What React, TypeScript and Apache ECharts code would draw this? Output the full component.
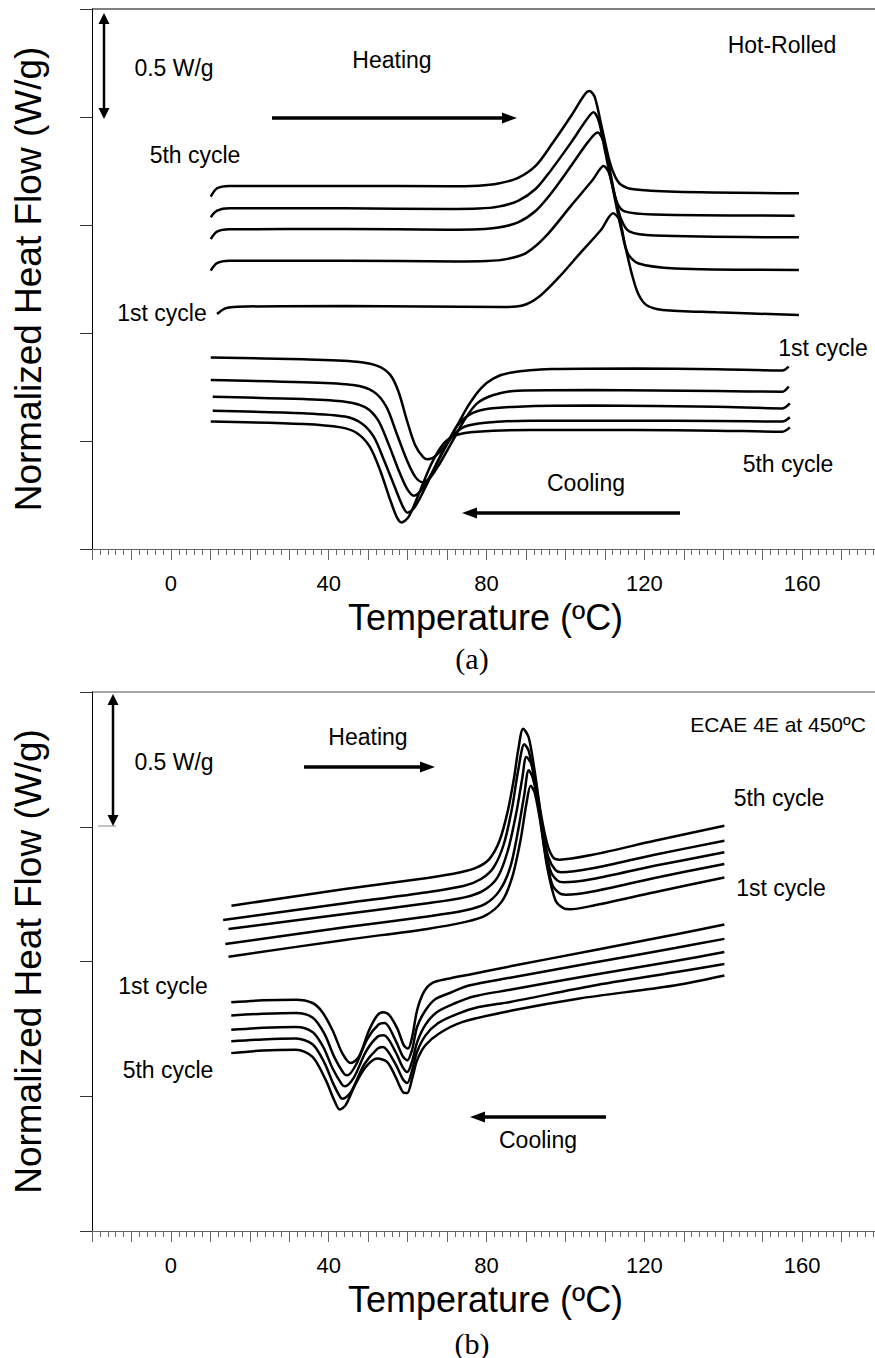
import React, { useEffect, useRef } from "react";
import * as echarts from "echarts";

// ---------- axis texts ----------
const xLabelValues = [0, 40, 80, 120, 160];
const xTitle = "Temperature (ºC)";
const yTitle = "Normalized Heat Flow (W/g)";

// ---------- Panel (a) Hot-Rolled : heating curves (T ºC, W/g offset) ----------
const heatA5 = [[10.1,1.631],[11.7,1.670],[14.8,1.681],[44.1,1.681],[70.0,1.679],[78.0,1.682],[83.0,1.692],[88.0,1.718],[92.5,1.775],[96.4,1.870],[101.6,2.009],[104.8,2.102],[106.1,2.120],[107.4,2.094],[109.0,1.971],[111.1,1.801],[112.6,1.724],[114.2,1.685],[117.3,1.665],[127.8,1.654],[159.2,1.647]];
const heatA4 = [[10.1,1.536],[11.7,1.566],[14.8,1.577],[44.1,1.577],[70.0,1.574],[78.0,1.576],[83.0,1.585],[88.0,1.612],[92.5,1.668],[96.4,1.755],[101.6,1.886],[105.3,1.986],[107.1,2.022],[108.5,1.979],[110.0,1.847],[111.6,1.708],[113.2,1.600],[115.2,1.562],[122.6,1.549],[158.1,1.543]];
const heatA3 = [[10.1,1.435],[11.7,1.469],[14.8,1.480],[44.1,1.482],[70.0,1.478],[78.0,1.480],[83.0,1.488],[88.0,1.512],[92.5,1.566],[96.4,1.647],[101.6,1.778],[105.8,1.886],[108.2,1.928],[109.5,1.894],[111.1,1.770],[112.6,1.631],[114.2,1.523],[116.3,1.469],[122.6,1.451],[159.2,1.443]];
const heatA2 = [[10.1,1.289],[11.7,1.323],[14.8,1.334],[44.1,1.335],[72.0,1.331],[80.0,1.333],[85.0,1.342],[90.0,1.370],[95.0,1.447],[101.6,1.593],[106.9,1.708],[109.7,1.773],[111.1,1.739],[112.6,1.616],[114.2,1.477],[115.8,1.369],[118.4,1.323],[127.8,1.299],[159.2,1.292]];
const heatA1 = [[11.7,1.088],[13.8,1.114],[16.9,1.122],[44.1,1.125],[84.0,1.120],[89.1,1.127],[93.3,1.168],[98.5,1.261],[103.7,1.369],[109.0,1.477],[112.1,1.554],[113.7,1.523],[115.2,1.400],[116.8,1.276],[118.4,1.184],[120.5,1.130],[124.7,1.107],[138.3,1.096],[159.2,1.083]];

// ---------- Panel (a) Hot-Rolled : cooling curves ----------
const coolA1 = [[10.1,0.886],[33.6,0.878],[47.2,0.867],[52.5,0.847],[55.6,0.806],[57.7,0.728],[59.8,0.597],[61.9,0.482],[64.0,0.424],[65.2,0.415],[67.1,0.431],[69.7,0.482],[72.4,0.566],[75.5,0.667],[78.6,0.744],[81.8,0.790],[86.0,0.816],[96.4,0.833],[117.3,0.836],[138.3,0.832],[155.0,0.826],[156.6,0.844]];
const coolA2 = [[10.1,0.782],[33.6,0.772],[46.2,0.759],[51.4,0.728],[54.6,0.659],[57.2,0.536],[59.8,0.412],[61.9,0.335],[63.8,0.309],[65.6,0.327],[68.2,0.397],[71.3,0.497],[74.4,0.597],[77.6,0.674],[81.8,0.713],[88.0,0.733],[106.9,0.736],[138.3,0.731],[155.0,0.728],[156.6,0.752]];
const coolA3 = [[10.6,0.705],[33.6,0.694],[44.1,0.682],[49.3,0.656],[52.5,0.597],[55.1,0.489],[57.7,0.366],[59.8,0.281],[61.6,0.247],[63.5,0.273],[66.1,0.350],[69.2,0.458],[72.4,0.566],[75.5,0.620],[79.7,0.647],[88.0,0.659],[106.9,0.664],[138.3,0.659],[155.0,0.651],[156.9,0.674]];
const coolA4 = [[10.6,0.640],[33.6,0.628],[44.1,0.613],[48.3,0.582],[51.4,0.520],[54.0,0.412],[56.7,0.289],[58.8,0.196],[60.0,0.168],[61.9,0.196],[65.0,0.304],[68.2,0.428],[71.3,0.520],[74.4,0.566],[79.7,0.585],[91.2,0.594],[117.3,0.594],[138.3,0.593],[155.0,0.590],[156.9,0.610]];
const coolA5 = [[10.1,0.590],[33.6,0.579],[43.1,0.563],[47.2,0.536],[50.4,0.474],[53.0,0.366],[55.6,0.227],[57.2,0.150],[58.4,0.123],[60.3,0.150],[62.9,0.258],[66.1,0.397],[69.2,0.489],[72.4,0.528],[77.6,0.543],[91.2,0.551],[117.3,0.551],[138.3,0.548],[155.0,0.543],[156.9,0.563]];

// ---------- Panel (b) ECAE 4E at 450ºC : heating curves ----------
const heatB5 = [[15.35,1.207],[44.1,1.269],[65.0,1.310],[73.4,1.331],[77.6,1.349],[80.7,1.380],[83.3,1.448],[85.4,1.559],[87.0,1.683],[88.0,1.781],[89.3,1.864],[90.7,1.831],[92.2,1.707],[93.8,1.547],[95.4,1.436],[96.9,1.386],[98.5,1.378],[106.9,1.396],[122.6,1.448],[140.3,1.504]];
const heatB4 = [[13.25,1.154],[44.1,1.216],[65.0,1.257],[74.4,1.281],[78.6,1.306],[81.8,1.349],[84.4,1.436],[86.5,1.571],[88.0,1.707],[89.6,1.806],[90.7,1.781],[92.2,1.670],[94.1,1.497],[95.7,1.386],[97.5,1.339],[99.0,1.331],[106.9,1.346],[122.6,1.396],[140.3,1.448]];
const heatB3 = [[14.6,1.121],[44.1,1.176],[65.0,1.216],[74.4,1.238],[79.2,1.263],[82.8,1.312],[85.4,1.411],[87.5,1.547],[89.1,1.683],[90.1,1.759],[91.4,1.732],[92.8,1.633],[94.5,1.460],[96.2,1.337],[98.0,1.300],[99.6,1.294],[106.9,1.306],[122.6,1.355],[140.3,1.405]];
const heatB2 = [[13.8,1.065],[44.1,1.127],[65.0,1.167],[74.4,1.189],[79.7,1.214],[83.3,1.263],[86.0,1.349],[88.0,1.485],[89.6,1.621],[90.7,1.710],[91.7,1.683],[93.1,1.584],[94.8,1.411],[96.6,1.288],[98.5,1.253],[100.1,1.248],[106.9,1.260],[122.6,1.310],[140.3,1.362]];
const heatB1 = [[14.6,1.018],[44.1,1.080],[65.0,1.121],[74.4,1.146],[79.7,1.170],[83.9,1.223],[86.5,1.312],[88.6,1.448],[90.1,1.584],[91.2,1.652],[92.2,1.627],[93.6,1.522],[95.4,1.349],[97.5,1.226],[99.6,1.197],[101.1,1.194],[106.9,1.207],[122.6,1.257],[140.3,1.312]];

// ---------- Panel (b) ECAE 4E at 450ºC : cooling curves ----------
const coolB1 = [[15.3,0.849],[23.3,0.856],[31.7,0.858],[35.9,0.846],[38.4,0.812],[41.0,0.744],[43.5,0.658],[45.6,0.623],[47.7,0.648],[50.2,0.744],[52.3,0.800],[53.75,0.812],[55.3,0.802],[57.4,0.751],[59.05,0.689],[60.1,0.677],[61.15,0.720],[62.4,0.818],[64.1,0.886],[66.2,0.920],[70.3,0.936],[75.5,0.951],[86.0,0.982],[106.9,1.041],[127.8,1.100],[140.3,1.137]];
const coolB2 = [[15.3,0.800],[23.3,0.806],[31.7,0.809],[35.9,0.792],[38.9,0.732],[41.4,0.646],[43.9,0.583],[44.75,0.578],[46.85,0.615],[49.8,0.713],[52.7,0.767],[54.2,0.772],[56.95,0.707],[58.8,0.648],[59.9,0.633],[61.15,0.673],[62.4,0.757],[64.5,0.818],[67.0,0.860],[71.0,0.885],[75.5,0.911],[86.0,0.940],[106.9,0.995],[127.8,1.050],[140.3,1.084]];
const coolB3 = [[15.3,0.747],[23.3,0.754],[31.7,0.757],[35.9,0.738],[38.6,0.683],[41.0,0.603],[43.3,0.545],[44.1,0.537],[46.4,0.570],[49.4,0.665],[52.3,0.720],[54.0,0.726],[56.9,0.666],[58.8,0.607],[59.9,0.590],[61.15,0.630],[62.4,0.700],[64.5,0.765],[67.4,0.812],[72.0,0.845],[77.0,0.871],[86.0,0.895],[106.9,0.950],[127.8,1.002],[140.3,1.035]];
const coolB4 = [[15.3,0.704],[23.3,0.711],[31.7,0.714],[35.9,0.693],[38.9,0.625],[41.2,0.545],[43.0,0.495],[43.5,0.491],[45.6,0.515],[49.0,0.618],[52.3,0.676],[53.75,0.683],[56.9,0.620],[58.8,0.563],[59.9,0.549],[61.15,0.597],[62.4,0.665],[64.5,0.725],[67.6,0.770],[72.5,0.805],[78.0,0.831],[86.0,0.850],[106.9,0.910],[127.8,0.960],[140.3,0.991]];
const coolB5 = [[15.3,0.660],[23.3,0.670],[31.7,0.673],[35.9,0.646],[39.3,0.559],[41.4,0.485],[42.8,0.451],[44.3,0.467],[46.85,0.547],[49.4,0.609],[52.3,0.640],[54.85,0.627],[56.95,0.572],[58.8,0.516],[59.9,0.512],[61.15,0.565],[62.4,0.633],[64.5,0.689],[67.9,0.732],[73.8,0.775],[86.4,0.818],[103.2,0.862],[127.6,0.911],[140.3,0.948]];

const FONT = '"Liberation Sans", Arial, Helvetica, sans-serif';
const SERIF = '"Liberation Serif", "Times New Roman", serif';

function makeX(gridIndex: number) {
  return {
    type: "value",
    gridIndex,
    min: -20,
    max: 180,
    interval: 10,
    axisLine: { show: true, onZero: false, lineStyle: { color: "#666", width: 1 } },
    axisTick: { show: true, length: 11, lineStyle: { color: "#666", width: 1 } },
    minorTick: { show: true, splitNumber: 5, length: 6, lineStyle: { color: "#666", width: 1 } },
    splitLine: { show: false },
    minorSplitLine: { show: false },
    axisLabel: {
      margin: 23,
      fontSize: 22,
      fontFamily: FONT,
      color: "#000",
      formatter: (v: number) => (xLabelValues.indexOf(v) >= 0 ? String(v) : ""),
    },
    name: xTitle,
    nameLocation: "middle",
    nameGap: 50,
    nameTextStyle: { fontSize: 36, fontFamily: FONT, color: "#000", padding: [0, 0, 0, -2] },
  };
}

function makeY(gridIndex: number, max: number) {
  return {
    type: "value",
    gridIndex,
    min: 0,
    max,
    interval: 0.5,
    axisLine: { show: true, onZero: false, lineStyle: { color: "#000", width: 1 } },
    axisTick: { show: true, length: 12, lineStyle: { color: "#333", width: 1 } },
    axisLabel: { show: false },
    splitLine: { show: false },
    name: yTitle,
    nameLocation: "middle",
    nameGap: 45,
    nameTextStyle: { fontSize: 37, fontFamily: FONT, color: "#000" },
  };
}

function hArrow(x1: number, x2: number, y: number) {
  const dir = x2 > x1 ? 1 : -1;
  const head = 15;
  return [
    { type: "line", shape: { x1, y1: y, x2: x2 - dir * head * 0.8, y2: y }, style: { stroke: "#000", lineWidth: 3.5 } },
    { type: "polygon", shape: { points: [[x2, y], [x2 - dir * head, y - 5.5], [x2 - dir * head, y + 5.5]] }, style: { fill: "#000" } },
  ];
}

function vDoubleArrow(x: number, y1: number, y2: number) {
  const head = 11;
  return [
    { type: "line", shape: { x1: x, y1: y1 + head * 0.8, x2: x, y2: y2 - head * 0.8 }, style: { stroke: "#000", lineWidth: 2.5 } },
    { type: "polygon", shape: { points: [[x, y1], [x - 5.5, y1 + head], [x + 5.5, y1 + head]] }, style: { fill: "#000" } },
    { type: "polygon", shape: { points: [[x, y2], [x - 5.5, y2 - head], [x + 5.5, y2 - head]] }, style: { fill: "#000" } },
  ];
}

function label(text: string, x: number, y: number, size: number, family = FONT) {
  return {
    type: "text",
    x,
    y,
    style: {
      text,
      fill: "#000",
      fontSize: size,
      fontFamily: family,
      font: `${size}px ${family}`,
      align: "center",
      verticalAlign: "middle",
      textAlign: "center",
      textVerticalAlign: "middle",
    },
    silent: true,
  };
}

export default function App() {
  const ref = useRef<HTMLDivElement>(null);
  useEffect(() => {
    if (!ref.current) return;
    const chart = echarts.init(ref.current, null, { renderer: "svg" });

    const curvesA = [heatA5, heatA4, heatA3, heatA2, heatA1, coolA1, coolA2, coolA3, coolA4, coolA5];
    const curvesB = [heatB5, heatB4, heatB3, heatB2, heatB1, coolB1, coolB2, coolB3, coolB4, coolB5];
    const mk = (d: number[][], idx: number) => ({
      type: "line",
      xAxisIndex: idx,
      yAxisIndex: idx,
      data: d,
      symbol: "none",
      showSymbol: false,
      smooth: 0.3,
      silent: true,
      lineStyle: { color: "#000", width: 2.5 },
    });

    const graphic: any[] = [
      { type: "line", shape: { x1: 92, y1: 9, x2: 884, y2: 9 }, style: { stroke: "#000", lineWidth: 1 } },
      { type: "line", shape: { x1: 92, y1: 692, x2: 884, y2: 692 }, style: { stroke: "#888", lineWidth: 1.5 } },
      { type: "line", shape: { x1: 98, y1: 826, x2: 116, y2: 826 }, style: { stroke: "#888", lineWidth: 1 } },
      ...vDoubleArrow(104, 13, 119),
      ...vDoubleArrow(113, 694, 826),
      ...hArrow(272, 517, 118),
      ...hArrow(680, 462, 513),
      ...hArrow(304, 435, 767),
      ...hArrow(606, 470, 1117),
      label("0.5 W/g", 174, 68, 23),
      label("Heating", 392, 60, 23),
      label("Hot-Rolled", 782, 45, 23),
      label("5th cycle", 195, 155, 23),
      label("1st cycle", 162, 313, 23),
      label("1st cycle", 823, 348, 23),
      label("5th cycle", 788, 464, 23),
      label("Cooling", 586, 483, 23),
      label("(a)", 472, 658, 30, SERIF),
      label("0.5 W/g", 174, 762, 23),
      label("Heating", 368, 737, 23),
      label("ECAE 4E at 450ºC", 778, 724, 21),
      label("5th cycle", 779, 798, 23),
      label("1st cycle", 781, 888, 23),
      label("1st cycle", 163, 986, 23),
      label("5th cycle", 168, 1070, 23),
      label("Cooling", 538, 1140, 23),
      label("(b)", 472, 1343, 30, SERIF),
    ];

    chart.setOption({
      animation: false,
      backgroundColor: "#fff",
      grid: [
        { left: 92, top: 9, width: 792, height: 540 },
        { left: 92, top: 692, width: 792, height: 539 },
      ],
      xAxis: [makeX(0), makeX(1)],
      yAxis: [makeY(0, 2.5), makeY(1, 2.0)],
      series: [...curvesA.map((d) => mk(d, 0)), ...curvesB.map((d) => mk(d, 1))],
      graphic,
    });
    return () => chart.dispose();
  }, []);

  return (
    <div style={{ position: "absolute", left: 0, top: 0, width: 875, height: 1358, overflow: "hidden", background: "#fff" }}>
      <div ref={ref} style={{ width: 884, height: 1358 }} />
    </div>
  );
}
